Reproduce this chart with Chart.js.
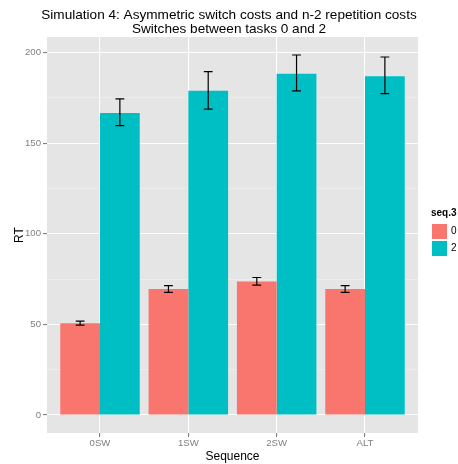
<!DOCTYPE html>
<html>
<head>
<meta charset="utf-8">
<script src="https://cdn.jsdelivr.net/npm/chart.js@4.4.1/dist/chart.umd.min.js"></script>
<style>
  body { margin: 0; background: #ffffff; }
  #wrap { width: 458px; height: 464px; }
</style>
</head>
<body>
<div id="wrap"><canvas id="rtChart" width="458" height="464"></canvas></div>
<script>
// Chart values
const categories = ["0SW", "1SW", "2SW", "ALT"];
const seqLevels = ["0", "2"];
const rtSeq0 = [50.7, 69.5, 73.7, 69.5];
const rtSeq2 = [166.7, 179.0, 188.4, 187.0];
const lowSeq0 = [49.6, 67.7, 71.7, 67.7];
const highSeq0 = [51.8, 71.4, 75.9, 71.4];
const lowSeq2 = [159.7, 168.8, 178.9, 177.4];
const highSeq2 = [174.5, 189.5, 198.7, 197.6];
const yTicks = [0, 50, 100, 150, 200];
const yMinorTicks = [25, 75, 125, 175];

const FONT = "'Liberation Sans', Arial, Helvetica, sans-serif";
const colors = ["#F8766D", "#00BFC4"];

// ggplot style expansion: 5% on continuous, 0.6 on discrete
const yMax = Math.max(...highSeq0, ...highSeq2);
const yPad = yMax * 0.05;

const toPoints = (vals) => vals.map((v, i) => ({ x: i + 1, y: v }));

// Grey panel background
const panelBg = {
  id: "panelBg",
  beforeDraw(chart) {
    const { ctx, chartArea: a } = chart;
    ctx.save();
    ctx.fillStyle = "#E5E5E5";
    ctx.fillRect(a.left, a.top, a.right - a.left, a.bottom - a.top);
    ctx.restore();
  },
};

// Error bars on top of bars
const errorBars = {
  id: "errorBars",
  afterDatasetsDraw(chart) {
    const { ctx, scales } = chart;
    const half = (scales.x.getPixelForValue(1.1) - scales.x.getPixelForValue(1)) / 2;
    ctx.save();
    ctx.strokeStyle = "#000000";
    ctx.lineWidth = 1.2;
    chart.data.datasets.forEach((ds, di) => {
      const meta = chart.getDatasetMeta(di);
      meta.data.forEach((bar, i) => {
        const yLo = scales.y.getPixelForValue(ds.errLow[i]);
        const yHi = scales.y.getPixelForValue(ds.errHigh[i]);
        ctx.beginPath();
        ctx.moveTo(bar.x, yLo);
        ctx.lineTo(bar.x, yHi);
        ctx.moveTo(bar.x - half, yLo);
        ctx.lineTo(bar.x + half, yLo);
        ctx.moveTo(bar.x - half, yHi);
        ctx.lineTo(bar.x + half, yHi);
        ctx.stroke();
      });
    });
    ctx.restore();
  },
};

// Legend drawn like ggplot's (title + stacked keys)
const sideLegend = {
  id: "sideLegend",
  afterDraw(chart) {
    const { ctx } = chart;
    const x = 431;
    const key = 17;
    ctx.save();
    ctx.fillStyle = "#000000";
    ctx.font = "bold 10px " + FONT;
    ctx.textBaseline = "middle";
    ctx.textAlign = "left";
    ctx.fillText("seq.3", x, 213);
    chart.data.datasets.forEach((ds, i) => {
      const top = 223 + i * key;
      ctx.fillStyle = ds.backgroundColor;
      ctx.fillRect(x, top, key, key);
      ctx.strokeStyle = "#ffffff";
      ctx.lineWidth = 1;
      ctx.strokeRect(x + 0.5, top + 0.5, key - 1, key - 1);
      ctx.fillStyle = "#000000";
      ctx.font = "10px " + FONT;
      ctx.fillText(ds.label, x + key + 3, top + key / 2);
    });
    ctx.restore();
  },
};

const ctx = document.getElementById("rtChart").getContext("2d");
new Chart(ctx, {
  type: "bar",
  data: {
    datasets: [
      {
        label: seqLevels[0],
        data: toPoints(rtSeq0),
        errLow: lowSeq0,
        errHigh: highSeq0,
        backgroundColor: colors[0],
      },
      {
        label: seqLevels[1],
        data: toPoints(rtSeq2),
        errLow: lowSeq2,
        errHigh: highSeq2,
        backgroundColor: colors[1],
      },
    ],
  },
  options: {
    responsive: false,
    animation: false,
    layout: { padding: 0 },
    datasets: {
      bar: { categoryPercentage: 0.9, barPercentage: 1.0, borderWidth: 0 },
    },
    plugins: {
      legend: { display: false },
      tooltip: { enabled: false },
      title: {
        display: true,
        text: [
          "Simulation 4: Asymmetric switch costs and n-2 repetition costs",
          "Switches between tasks 0 and 2",
        ],
        color: "#000000",
        font: { family: FONT, size: 13.6, weight: "normal", lineHeight: 1.03 },
        padding: { top: 8, bottom: 1 },
      },
    },
    scales: {
      x: {
        type: "linear",
        min: 0.4,
        max: 4.6,
        offset: false,
        afterBuildTicks(scale) {
          scale.ticks = categories.map((c, i) => ({ value: i + 1 }));
        },
        afterFit(scale) {
          scale.height = 31;
        },
        ticks: {
          callback: (v) => categories[v - 1],
          color: "#7F7F7F",
          font: { family: FONT, size: 9.6 },
          padding: 1,
          maxRotation: 0,
        },
        grid: {
          offset: false,
          color: "#FFFFFF",
          lineWidth: 1.1,
          tickColor: "#7F7F7F",
          tickLength: 4,
        },
        border: { display: false },
        title: {
          display: true,
          text: "Sequence",
          color: "#000000",
          font: { family: FONT, size: 12 },
          padding: { top: 0, bottom: 0 },
        },
      },
      y: {
        min: -yPad,
        max: yMax + yPad,
        afterBuildTicks(scale) {
          scale.ticks = [...yTicks, ...yMinorTicks]
            .sort((a, b) => a - b)
            .map((v) => ({ value: v }));
        },
        afterFit(scale) {
          scale.width = 47;
        },
        ticks: {
          callback: (v) => (yTicks.includes(v) ? v : ""),
          color: "#7F7F7F",
          font: { family: FONT, size: 9.6 },
          padding: 2,
        },
        grid: {
          color: (c) => (yTicks.includes(c.tick.value) ? "#FFFFFF" : "#F2F2F2"),
          lineWidth: (c) => (yTicks.includes(c.tick.value) ? 1.1 : 0.6),
          tickColor: (c) => (yTicks.includes(c.tick.value) ? "#7F7F7F" : "rgba(0,0,0,0)"),
          tickLength: 4,
        },
        border: { display: false },
        title: {
          display: true,
          text: "RT",
          color: "#000000",
          font: { family: FONT, size: 12 },
          padding: { top: 12, bottom: 0 },
        },
      },
      // empty right-hand box that leaves room for the legend
      legendSpace: {
        type: "linear",
        position: "right",
        display: true,
        afterFit(scale) {
          scale.width = 40;
        },
        ticks: { display: false },
        grid: { display: false },
        border: { display: false },
      },
    },
  },
  plugins: [panelBg, errorBars, sideLegend],
});
</script>
</body>
</html>
